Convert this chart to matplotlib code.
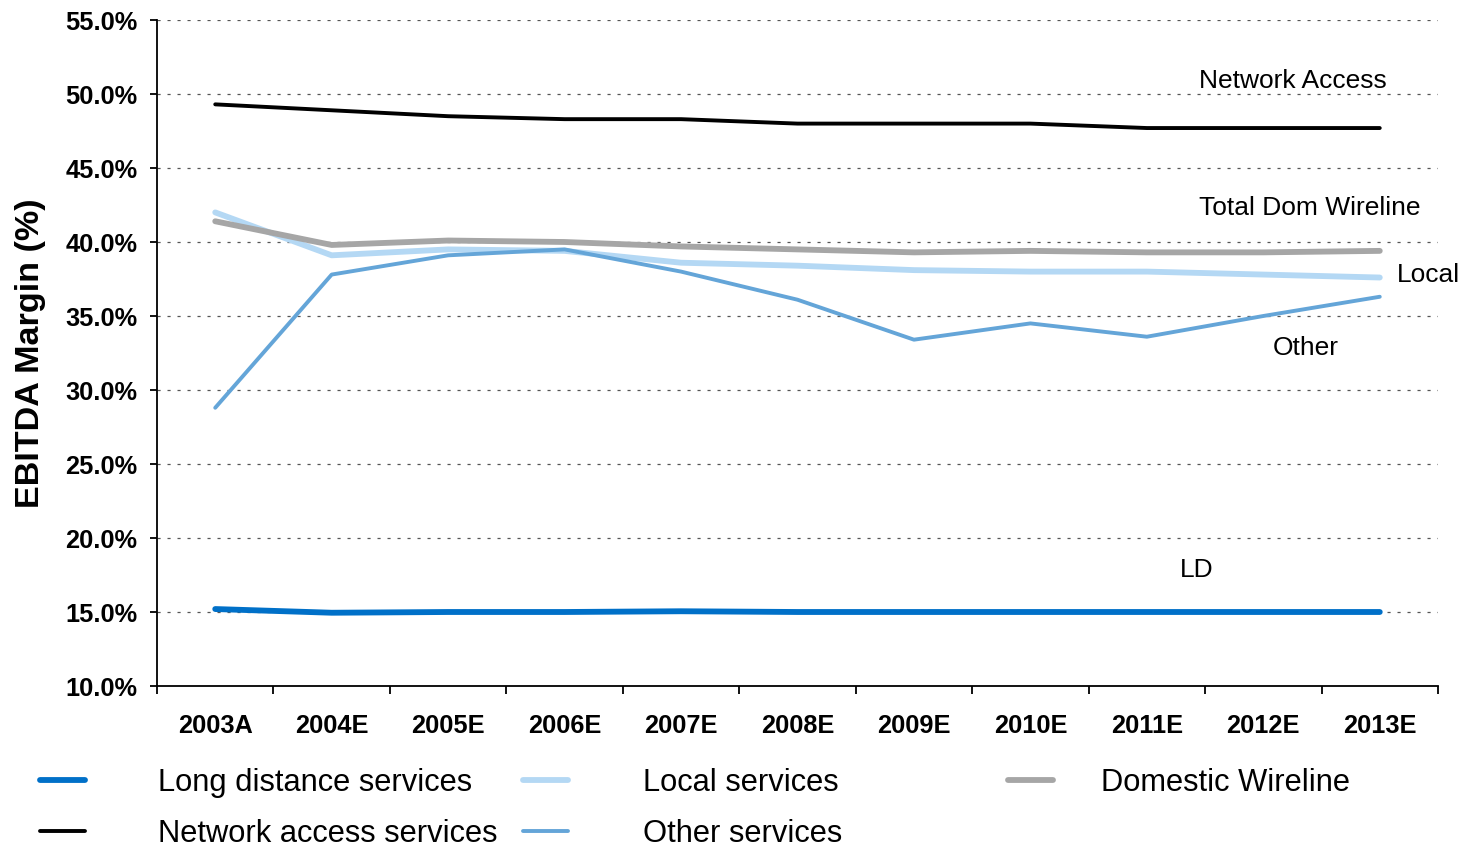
import numpy as np
import matplotlib
matplotlib.use('Agg')
import matplotlib.pyplot as plt
from matplotlib.ticker import FuncFormatter, FixedLocator

plt.rcParams['font.family'] = ['Liberation Sans', 'DejaVu Sans']

# Data
years = ['2003A', '2004E', '2005E', '2006E', '2007E', '2008E',
         '2009E', '2010E', '2011E', '2012E', '2013E']
long_distance = [15.2, 14.95, 15.0, 15.0, 15.05, 15.0, 15.0, 15.0, 15.0, 15.0, 15.0]
network_access = [49.3, 48.9, 48.5, 48.3, 48.3, 48.0, 48.0, 48.0, 47.7, 47.7, 47.7]
local_services = [42.0, 39.1, 39.5, 39.4, 38.6, 38.4, 38.1, 38.0, 38.0, 37.8, 37.6]
other_services = [28.8, 37.8, 39.1, 39.5, 38.0, 36.1, 33.4, 34.5, 33.6, 35.0, 36.3]
domestic_wireline = [41.4, 39.8, 40.1, 40.0, 39.7, 39.5, 39.3, 39.4, 39.3, 39.3, 39.4]

# Colours
c_ld = (0/255, 112/255, 200/255)
c_local = (180/255, 216/255, 244/255)
c_other = (100/255, 165/255, 216/255)
c_dom = (166/255, 166/255, 166/255)
c_net = (0, 0, 0)

fig = plt.figure(figsize=(14.67, 8.48), dpi=100)
ax = fig.add_axes([157/1467, 1 - 686/848, (1438 - 157)/1467, (686 - 20)/848])

x = np.arange(len(years))
kw = dict(solid_capstyle='round', solid_joinstyle='round')
l_ld, = ax.plot(x, long_distance, color=c_ld, lw=4.2, label='Long distance services', **kw)
l_loc, = ax.plot(x, local_services, color=c_local, lw=4.2, label='Local services', **kw)
l_dom, = ax.plot(x, domestic_wireline, color=c_dom, lw=4.2, label='Domestic Wireline', **kw)
l_net, = ax.plot(x, network_access, color=c_net, lw=2.8, label='Network access services', **kw)
l_oth, = ax.plot(x, other_services, color=c_other, lw=2.8, label='Other services', **kw)

# Axes formatting
ax.set_xlim(-0.5, len(years) - 0.5)
ax.set_ylim(10, 55)
ax.set_yticks(np.arange(10, 56, 5))
ax.yaxis.set_major_formatter(FuncFormatter(lambda v, p: '%.1f%%' % v))
ax.xaxis.set_major_locator(FixedLocator(np.arange(-0.5, len(years), 1)))
ax.xaxis.set_major_formatter(FuncFormatter(lambda v, p: ''))
ax.xaxis.set_minor_locator(FixedLocator(x))
ax.set_xticklabels(years, minor=True)
ax.tick_params(axis='x', which='major', direction='out', length=5.5, width=1.3)
ax.tick_params(axis='x', which='minor', length=0, pad=20, labelsize=18.3)
ax.tick_params(axis='y', direction='out', length=5, width=1.3, labelsize=18.3, pad=9)
for lab in ax.get_xticklabels(minor=True) + ax.get_yticklabels():
    lab.set_fontweight('bold')

for s in ['top', 'right']:
    ax.spines[s].set_visible(False)
for s in ['left', 'bottom']:
    ax.spines[s].set_linewidth(1.3)

ax.yaxis.grid(True, linestyle=(0, (2.5, 5.5)), color='#555555', linewidth=0.9)
ax.set_axisbelow(True)
ax.set_ylabel('EBITDA Margin (%)', fontsize=24.6, fontweight='bold')
ax.yaxis.set_label_coords(-0.087, 0.5)

# Series annotations
ax.text(8.45, 50.85, 'Network Access', fontsize=19, va='center', ha='left')
ax.text(8.45, 42.3, 'Total Dom Wireline', fontsize=19, va='center', ha='left')
ax.text(10.15, 37.75, 'Local', fontsize=19, va='center', ha='left')
ax.text(9.08, 32.85, 'Other', fontsize=19, va='center', ha='left')
ax.text(8.28, 17.85, 'LD', fontsize=19, va='center', ha='left')

# Legend in three fixed columns
cols = [([l_ld, l_net], 40, 2.37), ([l_loc, l_oth], 523, 2.43), ([l_dom], 1008, 1.56)]
for handles, xpix, pad in cols:
    fig.legend(handles=handles, loc='upper left', bbox_to_anchor=(xpix / 1467, 1 - 768 / 848),
               frameon=False, fontsize=22.2, handlelength=1.46, handletextpad=pad,
               borderpad=0, borderaxespad=0, labelspacing=0.68)

fig.savefig('out.png', dpi=100)
plt.close('all')
